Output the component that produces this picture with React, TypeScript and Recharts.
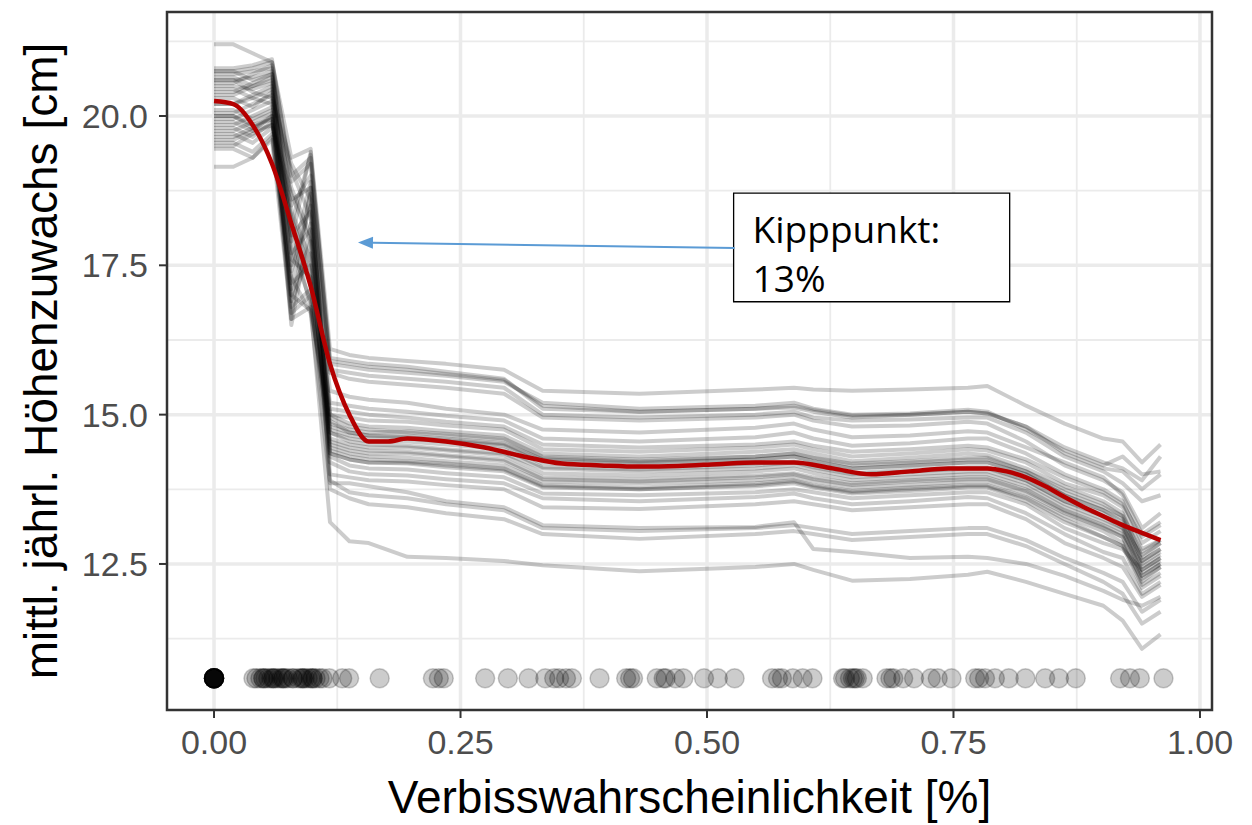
import React from 'react';
import {
  CartesianGrid,
  ComposedChart,
  Label,
  Line,
  ReferenceArea,
  ReferenceLine,
  Scatter,
  XAxis,
  YAxis,
} from 'recharts';

// grid of the ICE curves (subset of the 50-point grid where the curves bend)
const X_GRID = [
  0, 0.0196, 0.0392, 0.0588, 0.0784, 0.098, 0.1176, 0.1373, 0.1569, 0.1961, 0.2353, 0.2941, 0.3333,
  0.4314, 0.549, 0.5882, 0.6078, 0.6471, 0.7059, 0.7647, 0.7843, 0.8235, 0.8627, 0.902, 0.9216,
  0.9412, 0.96,
];

// one row per grey curve, values read at X_GRID
const ICE_LINES = [
  [21.2, 21.2, 21.05, 20.9, 19.3, 19.45, 16.1, 16.0, 15.95, 15.9, 15.85, 15.75, 15.4, 15.35, 15.42, 15.45, 15.42, 15.4, 15.42, 15.45, 15.48, 15.15, 14.85, 14.6, 14.55, 14.2, 14.5],
  [20.8, 20.8, 20.85, 20.95, 18.9, 19.2, 15.95, 15.9, 15.85, 15.8, 15.72, 15.6, 15.1, 15.05, 15.1, 15.12, 15.05, 14.95, 15.0, 15.05, 15.02, 14.8, 14.45, 14.2, 14.1, 13.9, 14.3],
  [20.75, 20.75, 20.6, 20.7, 18.6, 18.8, 15.85, 15.8, 15.75, 15.7, 15.65, 15.55, 15.2, 15.1, 15.15, 15.2, 15.1, 15.0, 15.02, 15.08, 15.05, 14.75, 14.4, 14.15, 14.3, 14.0, 14.05],
  [20.7, 20.7, 20.75, 20.8, 17.9, 19.4, 15.75, 15.7, 15.65, 15.6, 15.55, 15.45, 15.0, 14.95, 15.0, 15.05, 14.95, 14.9, 14.92, 14.95, 14.95, 14.7, 14.3, 14.05, 13.85, 13.55, 13.65],
  [20.65, 20.65, 20.5, 20.6, 17.4, 18.5, 15.7, 15.6, 15.55, 15.5, 15.45, 15.35, 14.95, 14.9, 14.95, 15.0, 14.9, 14.8, 14.82, 14.88, 14.85, 14.55, 14.15, 13.9, 13.7, 13.1, 13.35],
  [20.6, 20.6, 20.4, 20.3, 19.1, 18.3, 15.4, 15.3, 15.25, 15.2, 15.1, 15.0, 14.75, 14.7, 14.78, 14.85, 14.75, 14.62, 14.65, 14.72, 14.7, 14.45, 14.2, 13.95, 13.65, 13.0, 13.2],
  [20.55, 20.55, 20.7, 20.85, 18.4, 17.6, 15.2, 15.15, 15.1, 15.05, 14.98, 14.9, 14.6, 14.55, 14.62, 14.7, 14.6, 14.48, 14.52, 14.6, 14.6, 14.35, 14.0, 13.75, 13.55, 12.85, 13.05],
  [20.5, 20.5, 20.45, 20.55, 17.0, 17.9, 15.1, 15.05, 15.0, 14.95, 14.88, 14.8, 14.5, 14.45, 14.5, 14.55, 14.48, 14.38, 14.42, 14.48, 14.45, 14.25, 13.95, 13.7, 13.5, 12.95, 13.15],
  [20.45, 20.45, 20.3, 20.2, 18.8, 18.0, 15.0, 14.95, 14.9, 14.88, 14.82, 14.75, 14.42, 14.38, 14.45, 14.5, 14.42, 14.3, 14.35, 14.42, 14.4, 14.2, 13.85, 13.65, 13.45, 12.75, 12.9],
  [20.35, 20.35, 20.5, 20.65, 17.6, 17.3, 15.0, 14.85, 14.8, 14.78, 14.72, 14.65, 14.35, 14.3, 14.38, 14.42, 14.35, 14.22, 14.28, 14.35, 14.32, 14.1, 13.8, 13.55, 13.35, 12.6, 12.85],
  [20.3, 20.3, 20.15, 20.4, 16.8, 17.1, 14.85, 14.75, 14.7, 14.72, 14.68, 14.6, 14.3, 14.25, 14.3, 14.35, 14.28, 14.15, 14.2, 14.25, 14.25, 14.05, 13.7, 13.45, 13.3, 12.55, 12.75],
  [20.2, 20.2, 20.35, 20.5, 18.1, 16.8, 14.9, 14.7, 14.65, 14.62, 14.58, 14.5, 14.22, 14.18, 14.25, 14.3, 14.22, 14.1, 14.15, 14.2, 14.2, 14.0, 13.65, 13.4, 13.2, 12.45, 12.65],
  [20.1, 20.1, 19.95, 20.1, 16.5, 18.2, 14.75, 14.65, 14.6, 14.6, 14.55, 14.48, 14.18, 14.12, 14.18, 14.22, 14.15, 14.02, 14.08, 14.12, 14.12, 13.9, 13.55, 13.35, 13.15, 12.4, 12.6],
  [20.05, 20.05, 20.2, 20.35, 19.2, 18.6, 14.7, 14.55, 14.5, 14.48, 14.42, 14.35, 14.1, 14.05, 14.1, 14.15, 14.08, 13.95, 14.0, 14.05, 14.05, 13.85, 13.5, 13.25, 13.1, 12.35, 12.55],
  [20.0, 20.0, 19.85, 19.95, 17.2, 17.5, 14.6, 14.5, 14.45, 14.45, 14.4, 14.32, 14.02, 13.98, 14.05, 14.1, 14.02, 13.9, 13.95, 14.0, 14.0, 13.8, 13.45, 13.2, 13.05, 12.3, 12.5],
  [19.95, 19.95, 20.1, 20.25, 17.8, 16.9, 14.55, 14.45, 14.4, 14.38, 14.32, 14.25, 13.95, 13.92, 13.98, 14.02, 13.95, 13.85, 13.9, 13.95, 13.95, 13.75, 13.4, 13.15, 13.0, 12.5, 12.7],
  [19.9, 19.9, 19.75, 19.85, 18.5, 19.0, 14.45, 14.35, 14.3, 14.28, 14.22, 14.15, 13.88, 13.85, 13.9, 13.95, 13.88, 13.78, 13.82, 13.88, 13.88, 13.68, 13.35, 13.1, 12.95, 12.2, 12.45],
  [19.85, 19.85, 20.0, 20.15, 16.9, 17.7, 14.4, 14.3, 14.25, 14.22, 14.18, 14.1, 13.82, 13.78, 13.85, 13.9, 13.82, 13.72, 13.78, 13.82, 13.82, 13.62, 13.3, 13.05, 12.85, 12.15, 12.35],
  [19.8, 19.8, 19.65, 19.9, 18.2, 17.2, 14.35, 14.25, 14.2, 14.18, 14.12, 14.05, 13.78, 13.75, 13.8, 13.85, 13.78, 13.68, 13.72, 13.78, 13.78, 13.55, 13.2, 12.95, 12.8, 12.1, 12.3],
  [19.75, 19.75, 19.9, 20.05, 17.5, 18.9, 14.3, 14.15, 14.1, 14.08, 14.02, 13.95, 13.68, 13.65, 13.7, 13.75, 13.7, 13.6, 13.65, 13.7, 13.7, 13.5, 13.1, 12.85, 12.75, 12.4, 12.6],
  [19.7, 19.7, 19.55, 19.8, 16.7, 17.0, 14.2, 14.05, 14.0, 13.98, 13.92, 13.85, 13.6, 13.55, 13.62, 13.68, 13.6, 13.5, 13.55, 13.62, 13.6, 13.35, 13.0, 12.7, 12.6, 12.0, 12.2],
  [19.65, 19.65, 19.8, 19.95, 18.0, 18.4, 14.0, 13.95, 13.9, 13.88, 13.82, 13.75, 13.45, 13.42, 13.5, 13.55, 13.5, 13.4, 13.45, 13.5, 13.5, 13.25, 12.85, 12.6, 12.45, 11.95, 12.15],
  [19.55, 19.55, 19.4, 19.7, 17.3, 16.7, 13.85, 13.85, 13.8, 13.7, 13.55, 13.45, 13.15, 13.1, 13.12, 13.2, 12.75, 12.7, 12.6, 12.62, 12.6, 12.5, 12.3, 12.05, 11.9, 11.8, 11.95],
  [19.5, 19.5, 19.7, 19.85, 18.7, 17.9, 13.9, 13.7, 13.65, 13.6, 13.5, 13.4, 13.1, 13.05, 13.1, 13.15, 13.1, 13.0, 13.05, 13.1, 13.1, 12.9, 12.6, 12.35, 12.2, 11.7, 11.9],
  [19.45, 19.45, 19.3, 19.65, 17.1, 18.7, 13.75, 13.6, 13.5, 13.45, 13.35, 13.25, 13.0, 12.92, 13.0, 13.05, 13.0, 12.9, 12.95, 13.0, 13.0, 12.8, 12.5, 12.2, 12.0, 11.5, 11.7],
  [19.15, 19.15, 19.3, 19.6, 16.6, 16.8, 13.2, 12.88, 12.85, 12.62, 12.6, 12.55, 12.48, 12.38, 12.45, 12.5, 12.4, 12.22, 12.25, 12.32, 12.37, 12.2, 12.0, 11.8, 11.55, 11.08, 11.32],
  [20.75, 20.75, 20.8, 20.9, 19.0, 19.3, 14.95, 14.8, 14.75, 14.7, 14.65, 14.58, 14.28, 14.22, 14.3, 14.35, 14.28, 14.18, 14.22, 14.28, 14.28, 14.05, 13.75, 13.5, 13.3, 12.7, 12.9],
  [20.4, 20.4, 20.55, 20.7, 17.7, 18.1, 14.7, 14.6, 14.55, 14.55, 14.5, 14.42, 14.12, 14.08, 14.15, 14.2, 14.12, 14.0, 14.05, 14.1, 14.1, 13.9, 13.55, 13.3, 13.1, 12.65, 12.85],
  [20.0, 20.0, 19.8, 20.0, 18.3, 17.4, 14.5, 14.4, 14.35, 14.35, 14.3, 14.22, 13.92, 13.88, 13.95, 14.0, 13.92, 13.82, 13.88, 13.92, 13.92, 13.72, 13.38, 13.12, 12.95, 12.3, 12.5],
  [19.6, 19.6, 19.75, 20.0, 17.0, 16.75, 14.8, 14.7, 14.65, 14.65, 14.6, 14.52, 14.25, 14.2, 14.25, 14.3, 14.22, 14.1, 14.15, 14.2, 14.2, 14.0, 13.65, 13.4, 13.25, 12.55, 12.75],
  [20.6, 20.6, 20.65, 20.75, 18.2, 19.35, 15.9, 15.85, 15.8, 15.75, 15.68, 15.58, 15.15, 15.05, 15.1, 15.15, 15.08, 14.98, 15.0, 15.05, 15.02, 14.8, 14.35, 14.1, 14.05, 13.75, 14.0],
  [20.2, 20.2, 20.3, 20.45, 16.6, 18.8, 14.35, 14.25, 14.2, 14.2, 14.15, 14.08, 13.8, 13.75, 13.82, 13.88, 13.8, 13.7, 13.75, 13.8, 13.8, 13.6, 13.25, 12.95, 12.8, 12.25, 12.45],
];

// red average curve
const MEAN_X = [
  0, 0.0196, 0.0392, 0.0588, 0.0784, 0.098, 0.1176, 0.1373, 0.1569, 0.1765, 0.1961, 0.2353, 0.2745,
  0.3137, 0.3529, 0.3922, 0.4314, 0.4706, 0.5098, 0.549, 0.5882, 0.6275, 0.6667, 0.7059, 0.7451,
  0.7843, 0.8039, 0.8235, 0.8431, 0.8627, 0.8824, 0.902, 0.9216, 0.9412, 0.96,
];
const MEAN_Y = [
  20.25, 20.2, 19.85, 19.2, 18.2, 17.15, 15.85, 15.0, 14.55, 14.55, 14.6, 14.55, 14.45, 14.3, 14.18,
  14.15, 14.13, 14.14, 14.17, 14.2, 14.2, 14.1, 14.0, 14.05, 14.1, 14.1, 14.05, 13.95, 13.8, 13.62,
  13.45, 13.3, 13.15, 13.02, 12.9,
];

// observed values, drawn as a rug of points
const RUG_X = [
  0, 0, 0, 0, 0, 0, 0, 0, 0, 0, 0, 0, 0, 0, 0,
  0.04, 0.043, 0.047, 0.05, 0.052, 0.055, 0.058, 0.06, 0.062, 0.065, 0.068, 0.07, 0.072, 0.075,
  0.08, 0.085, 0.088, 0.09, 0.092, 0.095, 0.098, 0.1, 0.103, 0.107, 0.11,
  0.05, 0.06, 0.07, 0.08, 0.09, 0.1,
  0.117, 0.13, 0.137,
  0.168, 0.222, 0.228, 0.233, 0.275, 0.298, 0.319, 0.336, 0.345, 0.35, 0.357, 0.363, 0.391, 0.418,
  0.422, 0.425, 0.449, 0.456, 0.458, 0.468, 0.476, 0.497, 0.511, 0.528, 0.566, 0.572, 0.576,
  0.587, 0.597, 0.607, 0.638, 0.64, 0.645, 0.648, 0.65, 0.652, 0.658, 0.682, 0.686, 0.689, 0.699,
  0.71, 0.727, 0.734, 0.748, 0.772, 0.776, 0.782, 0.792, 0.806, 0.823, 0.843, 0.857, 0.874,
  0.919, 0.929, 0.939, 0.963,
];
const RUG_Y = 10.585;

const X_TICKS = [0, 0.25, 0.5, 0.75, 1];
const X_MINOR = [0.125, 0.375, 0.625, 0.875];
const Y_TICKS = [12.5, 15, 17.5, 20];
const Y_MINOR = [11.25, 13.75, 16.25, 18.75, 21.25];
const X_DOMAIN = [-0.0477, 1.0122];
const Y_DOMAIN = [10.055, 21.741];

const ARROW = [
  { x: 0.528, y: 17.79 },
  { x: 0.146, y: 17.88 },
];
const NOTE_BOX = { x1: 0.527, x2: 0.807, y1: 16.89, y2: 18.71 };
const NOTE_LINES = ['Kipppunkt:', '13%'];

const FONT = '"Liberation Sans", Arial, Helvetica, sans-serif';

const iceData = ICE_LINES.map((vals) => X_GRID.map((x, i) => ({ x, y: vals[i] })));
const meanData = MEAN_X.map((x, i) => ({ x, y: MEAN_Y[i] }));
const rugData = RUG_X.map((x) => ({ x, y: RUG_Y }));

function RugDot(props: any) {
  return (
    <circle
      cx={props.cx}
      cy={props.cy}
      r={9.5}
      fill="#000"
      fillOpacity={0.2}
      stroke="#000"
      strokeOpacity={0.2}
      strokeWidth={1.5}
    />
  );
}

function Arrow(props: any) {
  const { x1, y1, x2, y2 } = props;
  const dx = x2 - x1;
  const dy = y2 - y1;
  const len = Math.sqrt(dx * dx + dy * dy) || 1;
  const ux = dx / len;
  const uy = dy / len;
  const head = 15;
  const half = 6;
  const bx = x2 - ux * head;
  const by = y2 - uy * head;
  return (
    <g>
      <line x1={x1} y1={y1} x2={bx} y2={by} stroke="#5B9BD5" strokeWidth={2} />
      <polygon
        points={`${x2},${y2} ${bx - uy * half},${by + ux * half} ${bx + uy * half},${by - ux * half}`}
        fill="#5B9BD5"
      />
    </g>
  );
}

function NoteText(props: any) {
  const vb = props.viewBox || {};
  return (
    <g>
      {NOTE_LINES.map((t, i) => (
        <text
          key={t}
          x={vb.x + 19}
          y={vb.y + 50 + i * 49}
          fontFamily='"Open Sans", "Noto Sans", sans-serif'
          fontSize={37}
          fill="#000"
        >
          {t}
        </text>
      ))}
    </g>
  );
}

function YTitle(props: any) {
  const vb = props.viewBox || {};
  const cy = vb.y + vb.height / 2;
  return (
    <text
      transform={`translate(57, ${cy}) rotate(-90)`}
      textAnchor="middle"
      fontFamily={FONT}
      fontSize={46}
      fill="#000"
    >
      mittl. jährl. Höhenzuwachs [cm]
    </text>
  );
}

export default function App() {
  return (
    <div style={{ position: 'absolute', left: 0, top: 0, background: '#fff', fontFamily: FONT }}>
      <ComposedChart width={1252} height={825} margin={{ top: 12, right: 40, bottom: 0, left: 0 }}>
        <CartesianGrid
          horizontalValues={Y_MINOR}
          verticalValues={X_MINOR}
          stroke="#EBEBEB"
          strokeWidth={1.8}
        />
        <CartesianGrid
          horizontalValues={Y_TICKS}
          verticalValues={X_TICKS}
          stroke="#EBEBEB"
          strokeWidth={3.5}
        />
        <XAxis
          type="number"
          dataKey="x"
          domain={X_DOMAIN}
          ticks={X_TICKS}
          interval={0}
          allowDataOverflow
          height={115}
          tickFormatter={(v: number) => v.toFixed(2)}
          tick={{ fill: '#4D4D4D', fontSize: 34, fontFamily: FONT }}
          tickLine={{ stroke: '#333333', strokeWidth: 2 }}
          tickSize={8}
          tickMargin={12}
          axisLine={false}
        >
          <Label
            value="Verbisswahrscheinlichkeit [%]"
            position="insideBottom"
            offset={12}
            style={{ fontSize: 46, fill: '#000', fontFamily: FONT }}
          />
        </XAxis>
        <YAxis
          type="number"
          domain={Y_DOMAIN}
          ticks={Y_TICKS}
          interval={0}
          allowDataOverflow
          width={167}
          tickFormatter={(v: number) => v.toFixed(1)}
          tick={{ fill: '#4D4D4D', fontSize: 34, fontFamily: FONT }}
          tickLine={{ stroke: '#333333', strokeWidth: 2 }}
          tickSize={8}
          tickMargin={11}
          axisLine={false}
        >
          <Label content={YTitle} />
        </YAxis>
        {iceData.map((d, i) => (
          <Line
            key={i}
            data={d}
            dataKey="y"
            type="linear"
            stroke="#000"
            strokeOpacity={0.2}
            strokeWidth={4}
            strokeLinejoin="round"
            dot={false}
            activeDot={false}
            isAnimationActive={false}
          />
        ))}
        <Line
          data={meanData}
          dataKey="y"
          type="monotone"
          stroke="#B50000"
          strokeWidth={4.5}
          dot={false}
          activeDot={false}
          isAnimationActive={false}
        />
        <Scatter data={rugData} dataKey="y" shape={RugDot} isAnimationActive={false} />
        <ReferenceLine segment={ARROW} shape={Arrow} />
        <ReferenceArea
          x1={NOTE_BOX.x1}
          x2={NOTE_BOX.x2}
          y1={NOTE_BOX.y1}
          y2={NOTE_BOX.y2}
          fill="#fff"
          fillOpacity={1}
          stroke="#000"
          strokeWidth={1.3}
          label={{ content: NoteText }}
        />
        <ReferenceArea
          x1={X_DOMAIN[0]}
          x2={X_DOMAIN[1]}
          y1={Y_DOMAIN[0]}
          y2={Y_DOMAIN[1]}
          fill="none"
          stroke="#333333"
          strokeWidth={2.5}
        />
      </ComposedChart>
    </div>
  );
}
